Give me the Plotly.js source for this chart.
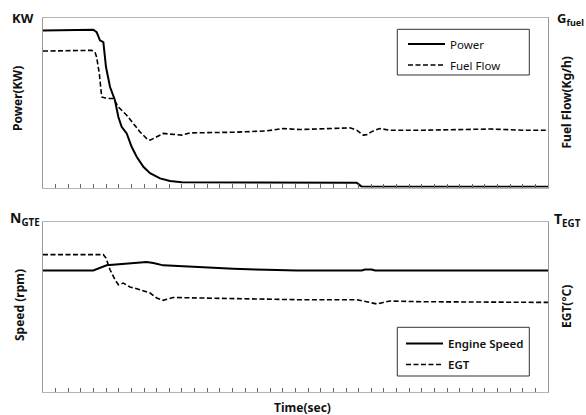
<!DOCTYPE html>
<html>
<head>
<meta charset="utf-8">
<script src="https://cdn.plot.ly/plotly-3.0.1.min.js"></script>
<style>html,body{margin:0;padding:0;background:#fff;}#chart{width:586px;height:415px;}</style>
</head>
<body>
<div id="chart"></div>
<script>
// ---- Data (arbitrary units, 0 = axis, 100 = top of panel) ----
const powerTime = [0, 3.98, 4.25, 4.51, 4.78, 4.99, 5.31, 5.70, 5.97, 6.23, 6.63, 7.02, 7.42, 7.95, 8.48, 9.27, 10.06, 10.99, 24.85, 25.24, 40];
const powerKW   = [92.6, 93.1, 91.6, 86.8, 85.8, 71.1, 59.3, 51.5, 41.6, 35.8, 31.9, 24.0, 18.1, 12.2, 8.4, 5.4, 3.8, 3.1, 2.8, 0.5, 0.5];

const fuelTime = [0, 3.85, 4.12, 4.25, 4.46, 4.65, 5.04, 5.57, 5.97, 6.63, 7.15, 7.68, 8.21, 8.48, 9.01, 9.53, 10.06, 10.99, 11.64, 12.44, 15.07, 17.72, 19.03, 20.36, 24.32, 24.85, 25.37, 25.64, 26.16, 26.69, 27.49, 30.12, 32.77, 35.41, 38.04, 40];
const fuelFlow = [80.5, 80.9, 79.9, 76.9, 67.2, 53.4, 52.5, 52.5, 47.5, 42.6, 37.8, 32.8, 28.9, 27.9, 29.9, 31.9, 31.5, 30.9, 32.2, 32.2, 32.6, 33.4, 34.8, 34.2, 35.2, 33.8, 30.9, 31.2, 33.4, 34.8, 33.8, 33.8, 34.2, 34.5, 33.8, 33.8];

const speedTime   = [0, 3.98, 5.04, 6.1, 7.15, 8.21, 8.74, 9.53, 11.11, 12.44, 15.07, 17.72, 20.1, 25.24, 25.5, 26.03, 26.3, 40];
const engineSpeed = [71.5, 71.5, 74.5, 75.3, 75.9, 76.5, 75.9, 74.5, 73.9, 73.3, 72.5, 71.9, 71.5, 71.5, 72.1, 72.1, 71.5, 71.5];

const egtTime = [0, 4.78, 4.99, 5.31, 5.70, 5.97, 6.36, 6.89, 7.68, 8.48, 9.01, 9.53, 9.8, 10.32, 12.44, 15.07, 17.72, 20.09, 24.85, 25.64, 26.43, 26.95, 27.49, 30.12, 35.41, 38.04, 40];
const egtValue = [80.8, 80.8, 78.8, 71.9, 66.1, 63.1, 64.1, 61.8, 60.2, 58.2, 55.3, 53.9, 54.5, 55.6, 55.3, 54.9, 54.7, 54.3, 54.3, 53.1, 51.8, 52.7, 53.5, 53.1, 52.9, 52.4, 52.7];

const legendTop = ['Power', 'Fuel Flow'];
const legendBottom = ['Engine Speed', 'EGT'];

const FONT = 'Noto Sans, Open Sans, sans-serif';
const solid = {color: '#000', width: 2};
const dashed = {color: '#000', width: 1.6, dash: '5px,2.5px'};

const traces = [
  {x: powerTime, y: powerKW, name: legendTop[0], type: 'scatter', mode: 'lines', line: solid, xaxis: 'x', yaxis: 'y', legend: 'legend', legendgroup: 'a'},
  {x: fuelTime, y: fuelFlow, name: legendTop[1], type: 'scatter', mode: 'lines', line: dashed, xaxis: 'x', yaxis: 'y3', legend: 'legend', legendgroup: 'b'},
  {x: speedTime, y: engineSpeed, name: legendBottom[0], type: 'scatter', mode: 'lines', line: solid, xaxis: 'x2', yaxis: 'y2', legend: 'legend2', legendgroup: 'c'},
  {x: egtTime, y: egtValue, name: legendBottom[1], type: 'scatter', mode: 'lines', line: dashed, xaxis: 'x2', yaxis: 'y4', legend: 'legend2', legendgroup: 'd'}
];

const H = 374, T = 18;
const py = px => (392 - px) / H;       // pixel-y -> paper
const pxp = px => (px - 43) / 505;     // pixel-x -> paper

const xa = {
  range: [0, 40], dtick: 1, tick0: 0, ticks: 'inside', ticklen: 4, tickwidth: 1, tickcolor: '#666',
  showticklabels: false, showgrid: false, zeroline: false,
  showline: true, linecolor: '#b5b5b5', linewidth: 1, mirror: true, fixedrange: true
};
const ya = {
  range: [0, 100], showticklabels: false, ticks: '', showgrid: false, zeroline: false,
  showline: true, linecolor: '#999', linewidth: 1, mirror: true, fixedrange: true
};

const topDom = [py(187.5), py(17.5)];
const botDom = [0, py(222)];

const legBase = {
  xanchor: 'left', yanchor: 'top', bgcolor: 'rgba(0,0,0,0)', borderwidth: 0,
  font: {family: FONT, size: 11.5, color: '#111'}, tracegroupgap: 2, itemclick: false, itemwidth: 37
};

const annFont = {family: FONT, size: 12, color: '#111', weight: 'bold'};
const ann = (text, x, y, angle, size) => ({
  text: text, xref: 'paper', yref: 'paper', x: x, y: y, xanchor: 'center', yanchor: 'middle',
  showarrow: false, textangle: angle || 0, font: Object.assign({}, annFont, size ? {size: size} : {})
});

const layout = {
  width: 586, height: 415,
  margin: {l: 43, r: 38, t: T, b: 23, pad: 0},
  paper_bgcolor: '#fff', plot_bgcolor: '#fff',
  showlegend: true,
  xaxis: Object.assign({}, xa, {anchor: 'y'}),
  yaxis: Object.assign({}, ya, {domain: topDom, anchor: 'x'}),
  yaxis3: {range: [0, 100], overlaying: 'y', side: 'right', visible: false, fixedrange: true},
  xaxis2: Object.assign({}, xa, {anchor: 'y2'}),
  yaxis2: Object.assign({}, ya, {domain: botDom, anchor: 'x2'}),
  yaxis4: {range: [0, 100], overlaying: 'y2', side: 'right', visible: false, fixedrange: true},
  legend: Object.assign({}, legBase, {x: pxp(403), y: py(29.5)}),
  legend2: Object.assign({}, legBase, {x: pxp(401), y: py(329), font: {family: FONT, size: 11.5, color: '#111', weight: 600}}),
  shapes: [
    {type: 'rect', xref: 'paper', yref: 'paper', x0: pxp(397.3), x1: pxp(529.3), y0: py(75), y1: py(29.3), line: {color: '#333', width: 1}},
    {type: 'rect', xref: 'paper', yref: 'paper', x0: pxp(397.3), x1: pxp(529.3), y0: py(376), y1: py(327.3), line: {color: '#333', width: 1}}
  ],
  annotations: [
    ann('KW', pxp(22.5), py(17.5), 0, 13),
    ann('Power(KW)', pxp(18), py(99), -90, 12),
    ann('G<sub>fuel</sub>', pxp(570), py(19), 0, 13),
    ann('Fuel Flow(Kg/h)', pxp(566), py(102.5), -90, 12),
    ann('N<sub>GTE</sub>', pxp(25), py(219), 0, 14),
    ann('Speed (rpm)', pxp(19), py(305), -90, 12),
    ann('T<sub>EGT</sub>', pxp(567.5), py(220), 0, 14),
    ann('EGT(°C)', pxp(566), py(307), -90, 12),
    ann('Time(sec)', pxp(302), py(407.5), 0, 12)
  ]
};

Plotly.newPlot('chart', traces, layout, {staticPlot: true, displayModeBar: false});
</script>
</body>
</html>
